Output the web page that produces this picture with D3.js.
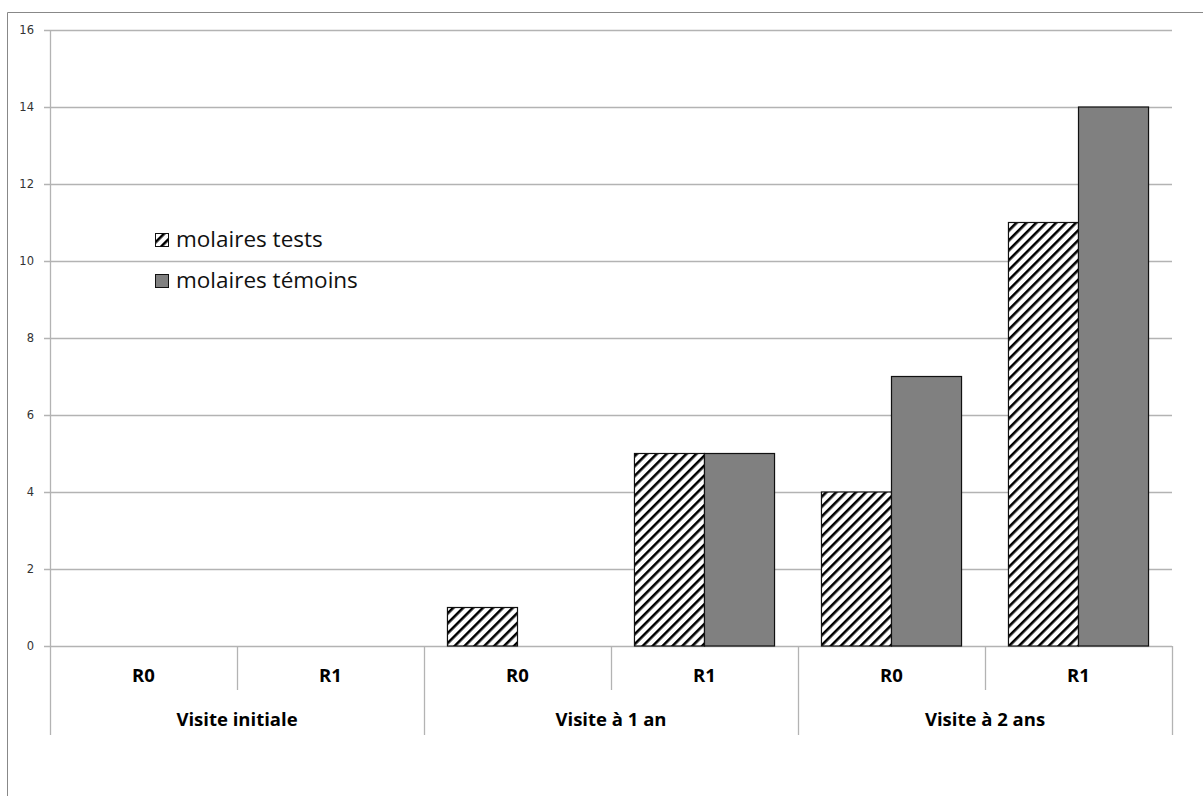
<!DOCTYPE html>
<html><head><meta charset="utf-8">
<script src="https://cdn.jsdelivr.net/npm/d3@7"></script>
<style>body{margin:0;background:#fff}svg{display:block}</style>
</head><body>
<svg id="c" width="1203" height="796"></svg>
<script>
const groups = ["Visite initiale", "Visite à 1 an", "Visite à 2 ans"];
const subcats = ["R0", "R1"];
const seriesNames = ["molaires tests", "molaires témoins"];
const testsValues = [0, 0, 1, 5, 4, 11];
const temoinsValues = [0, 0, 0, 5, 7, 14];
const yTicks = [0, 2, 4, 6, 8, 10, 12, 14, 16];

const svg = d3.select("#c");
const L = 50, R = 1172, T = 30, B = 646;
const cats = [];
groups.forEach((g, gi) => subcats.forEach((s, si) => cats.push({g, s, key: gi + "-" + si})));

const x = d3.scaleBand().domain(cats.map(d => d.key)).range([L, R]).paddingInner(0).paddingOuter(0);
const xs = d3.scaleBand().domain(seriesNames).range([0, x.bandwidth()]).paddingInner(0).paddingOuter(0.335);
const y = d3.scaleLinear().domain([0, 16]).range([B, T]);

const defs = svg.append("defs");
const pat = defs.append("pattern").attr("id", "hatch").attr("patternUnits", "userSpaceOnUse")
  .attr("width", 7).attr("height", 7).attr("patternTransform", "rotate(45)");
pat.append("rect").attr("width", 7).attr("height", 7).attr("fill", "#fff");
pat.append("rect").attr("x", 0).attr("width", 2.6).attr("height", 7).attr("fill", "#000");

// outer frame
svg.append("path").attr("d", "M7.5,796 L7.5,12.5 L1203,12.5").attr("fill", "none").attr("stroke", "#888").attr("stroke-width", 1);

// grid
svg.append("g").selectAll("line").data(yTicks).join("line")
  .attr("x1", L - 6).attr("x2", R).attr("y1", d => Math.round(y(d)) + 0.5).attr("y2", d => Math.round(y(d)) + 0.5)
  .attr("stroke", "#b3b3b3").attr("stroke-width", 1.3);
// y axis line
svg.append("line").attr("x1", L + 0.5).attr("x2", L + 0.5).attr("y1", T).attr("y2", B)
  .attr("stroke", "#b3b3b3").attr("stroke-width", 1.3);
svg.append("g").selectAll("text").data(yTicks).join("text")
  .attr("x", 34).attr("y", d => y(d) + 4).attr("text-anchor", "end")
  .attr("font-family", "'DejaVu Sans', Verdana, sans-serif").attr("font-size", 11.5).attr("fill", "#333")
  .text(d => d);

// bars
const series = [testsValues, temoinsValues];
series.forEach((vals, si) => {
  svg.append("g").selectAll("rect").data(cats.map((c, i) => ({c, v: vals[i]})).filter(d => d.v > 0)).join("rect")
    .attr("x", d => x(d.c.key) + xs(seriesNames[si]))
    .attr("width", xs.bandwidth())
    .attr("y", d => y(d.v))
    .attr("height", d => B - y(d.v))
    .attr("fill", si === 0 ? "url(#hatch)" : "#808080")
    .attr("stroke", "#111").attr("stroke-width", 1.2);
});

// category axis separators
const tickPos = cats.map(c => x(c.key)).concat([R]);
svg.append("g").selectAll("line").data(tickPos).join("line")
  .attr("x1", d => Math.round(d) + 0.5).attr("x2", d => Math.round(d) + 0.5)
  .attr("y1", B).attr("y2", (d, i) => (i % 2 === 0 ? 735 : 690))
  .attr("stroke", "#b3b3b3").attr("stroke-width", 1.3);

svg.append("g").selectAll("text").data(cats).join("text")
  .attr("x", d => x(d.key) + x.bandwidth() / 2).attr("y", 682).attr("text-anchor", "middle")
  .attr("font-family", "'Open Sans', 'Liberation Sans', sans-serif").attr("font-weight", "bold").attr("font-size", 18.5).attr("fill", "#000")
  .text(d => d.s);
svg.append("g").selectAll("text").data(groups).join("text")
  .attr("x", (d, i) => x(i + "-0") + x.bandwidth()).attr("y", 726).attr("text-anchor", "middle")
  .attr("font-family", "'Open Sans', 'Liberation Sans', sans-serif").attr("font-weight", "bold").attr("font-size", 18.5).attr("fill", "#000")
  .text(d => d);

// legend
const leg = svg.append("g");
seriesNames.forEach((n, i) => {
  const yy = 240 + i * 41;
  leg.append("rect").attr("x", 155.5).attr("y", yy - 6.5).attr("width", 13).attr("height", 13)
    .attr("fill", i === 0 ? "url(#hatch)" : "#808080").attr("stroke", "#111").attr("stroke-width", 1);
  leg.append("text").attr("x", 176).attr("y", yy + 7).attr("font-family", "'Open Sans', 'Liberation Sans', sans-serif")
    .attr("font-size", 22.5).attr("fill", "#111").text(n);
});
</script>
</body></html>
